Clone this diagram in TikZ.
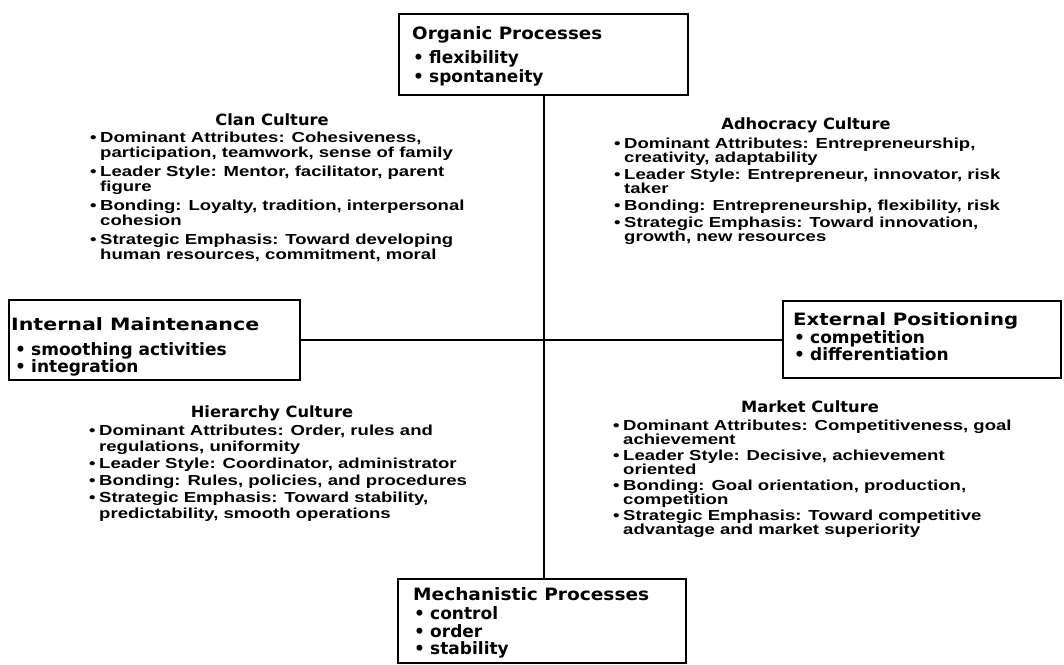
\documentclass[tikz,border=0pt]{standalone}
\usepackage{fontspec}
\usepackage{graphicx}
\setmainfont{Liberation Sans}
\newfontfamily\cultf{Liberation Sans}[FakeStretch=1.28]
\newfontfamily\ctitf{DejaVu Sans}[FakeStretch=1.05]
\newfontfamily\bitemf{DejaVu Sans}
\newcommand\culfont{\cultf\bfseries\fontsize{14.5}{15}\selectfont}
\newcommand\bl[1]{\hbox{\makebox[10pt][l]{•}#1}}
\newcommand\cn[1]{\hbox{\hspace*{10pt}#1}}
\newcommand\gp[1]{\vskip#1pt}
\newcommand\cblock[2]{\vtop{\culfont\baselineskip=#1pt\lineskiplimit=-100pt\lineskip=0pt\relax #2}}
\newcommand\btit[2]{\resizebox{#1pt}{\height}{\bitemf\bfseries\fontsize{17}{17}\selectfont #2}}
\newcommand\bit[1]{\bitemf\bfseries\fontsize{17}{17}\selectfont\makebox[16pt][l]{•}#1}
\begin{document}
\begin{tikzpicture}[x=1pt,y=-1pt,
  box/.style={draw, line width=2pt, inner sep=0pt, anchor=north west},
  ln/.style={line width=2pt},
  tx/.style={inner sep=0pt, anchor=base west},
  ct/.style={inner sep=0pt, anchor=base, font=\ctitf\bfseries\fontsize{15.5}{15.5}\selectfont}]
\useasboundingbox (0,0) rectangle (1064,664);
\fill[white] (0,0) rectangle (1064,664);

% boxes
\node[box, minimum width=289pt, minimum height=81pt] (org) at (398,13) {};
\node[box, minimum width=291pt, minimum height=80pt] (int) at (8,299) {};
\node[box, minimum width=278pt, minimum height=77pt] (ext) at (782,300) {};
\node[box, minimum width=288pt, minimum height=84pt] (mech) at (397,578) {};

% connectors
\draw[ln] (org.south) -- (org.south |- mech.north);
\draw[ln] (int.east) -- (int.east -| ext.west);

% box texts
\node[tx] (orgT) at (412,39) {\btit{190}{Organic Processes}};
\node[tx] (orgA) at (413,63) {\bit{flexibility}};
\node[tx] (orgB) at (413,82) {\bit{spontaneity}};

\node[tx] (intT) at (11,330) {\btit{248}{Internal Maintenance}};
\node[tx] (intA) at (15,355) {\bit{smoothing activities}};
\node[tx] (intB) at (15,372) {\bit{integration}};

\node[tx] (extT) at (793,325) {\btit{225}{External Positioning}};
\node[tx] (extA) at (794,343) {\bit{competition}};
\node[tx] (extB) at (794,360) {\bit{differentiation}};

\node[tx] (mechT) at (413,600) {\btit{236}{Mechanistic Processes}};
\node[tx] (mechA) at (414,619) {\bit{control}};
\node[tx] (mechB) at (414,637) {\bit{order}};
\node[tx] (mechC) at (414,654) {\bit{stability}};

% culture titles
\node[ct] (clanT) at (272,125) {Clan Culture};
\node[ct] (adhT) at (806,129) {Adhocracy Culture};
\node[ct] (hierT) at (272,417) {Hierarchy Culture};
\node[ct] (markT) at (810,412) {Market Culture};

% culture blocks
\node[tx] (clan) at (90,142) {\cblock{15}{%
  \bl{Dominant Attributes: Cohesiveness,}
  \cn{participation, teamwork, sense of family}\gp{4}
  \bl{Leader Style: Mentor, facilitator, parent}
  \cn{figure}\gp{4}
  \bl{Bonding: Loyalty, tradition, interpersonal}
  \cn{cohesion}\gp{4}
  \bl{Strategic Emphasis: Toward developing}
  \cn{human resources, commitment, moral}}};

\node[tx] (adh) at (614,148) {\cblock{14}{%
  \bl{Dominant Attributes: Entrepreneurship,}
  \cn{creativity, adaptability}\gp{3}
  \bl{Leader Style: Entrepreneur, innovator, risk}
  \cn{taker}\gp{3}
  \bl{Bonding: Entrepreneurship, flexibility, risk}\gp{3}
  \bl{Strategic Emphasis: Toward innovation,}
  \cn{growth, new resources}}};

\node[tx] (hier) at (89,435) {\cblock{16}{%
  \bl{Dominant Attributes: Order, rules and}
  \cn{regulations, uniformity}\gp{1}
  \bl{Leader Style: Coordinator, administrator}\gp{1}
  \bl{Bonding: Rules, policies, and procedures}\gp{1}
  \bl{Strategic Emphasis: Toward stability,}
  \cn{predictability, smooth operations}}};

\node[tx] (mark) at (613,430) {\cblock{14}{%
  \bl{Dominant Attributes: Competitiveness, goal}
  \cn{achievement}\gp{2}
  \bl{Leader Style: Decisive, achievement}
  \cn{oriented}\gp{2}
  \bl{Bonding: Goal orientation, production,}
  \cn{competition}\gp{2}
  \bl{Strategic Emphasis: Toward competitive}
  \cn{advantage and market superiority}}};
\end{tikzpicture}
\end{document}
